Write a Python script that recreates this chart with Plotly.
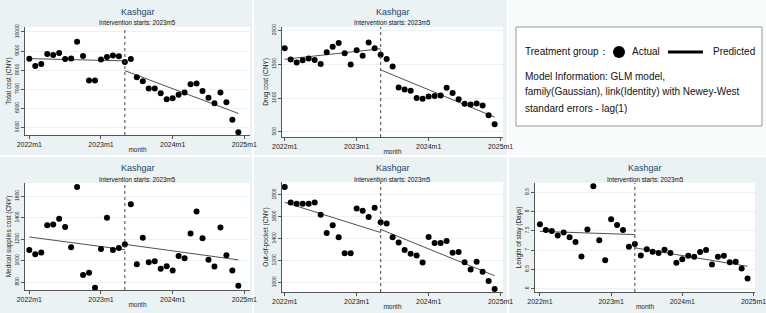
import numpy as np
import plotly.graph_objects as go

W, H = 766, 313
months = list(range(36))  # 2022m1 .. 2024m12
tick_vals = [0, 12, 24, 36]
tick_text = ["2022m1", "2023m1", "2024m1", "2025m1"]
interv = 16  # 2023m5

total_cost = [8600, 8220, 8325, 8848, 8796, 8900, 8586, 8604, 9494, 8743, 7452, 7452,
              8551, 8691, 8761, 8726, 8429, 8586, 7627, 7417, 7033, 7033, 6789, 6475,
              6527, 6702, 6824, 7260, 7295, 6911, 6545, 6265, 6824, 6318, 5393, 4747]
drug_cost = [1738, 1569, 1525, 1559, 1584, 1564, 1505, 1678, 1757, 1812, 1663, 1495,
             1708, 1624, 1822, 1738, 1639, 1579, 1465, 1158, 1129, 1109, 1000, 990,
             1025, 1030, 1040, 1153, 1074, 985, 916, 906, 921, 891, 748, 614]
med_supplies = [1100, 1059, 1075, 1331, 1337, 1390, 1313, 1124, 1686, 865, 887, 748,
                1109, 1399, 1100, 1118, 1152, 1526, 967, 1214, 985, 995, 924, 948,
                908, 1044, 1022, 1254, 1458, 1208, 1007, 945, 1310, 1050, 908, 766]
out_of_pocket = [1870, 1730, 1718, 1718, 1718, 1730, 1617, 1452, 1522, 1412, 1266, 1266,
                 1675, 1653, 1598, 1681, 1550, 1537, 1412, 1366, 1296, 1263, 1247, 1183,
                 1415, 1360, 1360, 1379, 1272, 1278, 1186, 1119, 1189, 1098, 1015, 942]
length_of_stay = [7.667, 7.518, 7.491, 7.377, 7.456, 7.333, 7.211, 6.833, 7.535, 8.658, 7.254, 6.737,
                  7.798, 7.649, 7.518, 7.088, 7.158, 6.860, 7.018, 6.956, 6.921, 7.009, 6.921, 6.667,
                  6.763, 6.851, 6.825, 6.947, 7.000, 6.623, 6.825, 6.851, 6.684, 6.693, 6.518, 6.263]

y_titles = ["Total cost (CNY)", "Drug cost (CNY)", "Medical supplies cost (CNY)",
            "Out-of-pocket (CNY)", "Length of stay (Days)"]
y_ticks = [[5000, 6000, 7000, 8000, 9000, 10000],
           [500, 1000, 1500, 2000],
           [800, 1000, 1200, 1400, 1600],
           [1000, 1200, 1400, 1600, 1800],
           [6, 6.5, 7, 7.5, 8, 8.5]]
y_tick_text = [["5000", "6000", "7000", "8000", "9000", "10000"],
               ["500", "1000", "1500", "2000"],
               ["800", "1000", "1200", "1400", "1600"],
               ["1000", "1200", "1400", "1600", "1800"],
               ["6", "6.5", "7", "7.5", "8", "8.5"]]
series = [total_cost, drug_cost, med_supplies, out_of_pocket, length_of_stay]

# layout geometry (pixels)
plot_boxes = [(25, 250, 27, 135), (282, 503, 27, 137), (25, 250, 183, 290),
              (282, 503, 182, 292), (535, 755, 183, 292)]
y_ranges = [[4597, 10262], [426, 2050], [726, 1724], [914, 1916], [5.91, 8.74]]
x_ranges = [[-0.72, 36.95], [-0.45, 36.4], [-0.72, 36.95], [-0.45, 36.4], [-0.83, 36.25]]
title_y = [(12, 23), (12, 23), (168, 179), (168, 179), (168, 179)]

BG = "#EAF2F3"
NAVY = "#1A476F"
FONT = "Liberation Sans, Arial, sans-serif"
TXT = "#222"

def px(x):
    return x / W

def py(y):
    return 1 - y / H

fig = go.Figure()
shapes = []
annotations = []

# panel backgrounds
panels = [(0, 252, 0, 155), (254, 507, 0, 155), (0, 252, 157, 313),
          (254, 507, 157, 313), (509, 766, 157, 313)]
for (x0, x1, y0, y1) in panels:
    shapes.append(dict(type="rect", xref="paper", yref="paper", x0=px(x0), x1=px(x1),
                       y0=py(y1), y1=py(y0), fillcolor=BG, line=dict(width=0), layer="below"))
shapes.append(dict(type="rect", xref="paper", yref="paper", x0=px(509), x1=px(766),
                   y0=py(155), y1=py(0), fillcolor="#F8FBFB", line=dict(width=0), layer="below"))
for (x0, x1, y0, y1) in plot_boxes:
    shapes.append(dict(type="rect", xref="paper", yref="paper", x0=px(x0), x1=px(x1),
                       y0=py(y1), y1=py(y0), fillcolor="white", line=dict(width=0), layer="below"))

t = np.array(months, dtype=float)
for i, ys in enumerate(series):
    k = i + 1
    xa = "x" if k == 1 else f"x{k}"
    ya = "y" if k == 1 else f"y{k}"
    yv = np.array(ys, dtype=float)
    pre = t < interv
    post = ~pre
    b_pre = np.polyfit(t[pre], yv[pre], 1)
    b_post = np.polyfit(t[post], yv[post], 1)
    tx_pre = np.array([0, interv], dtype=float)
    tx_post = np.array([interv, 35], dtype=float)
    fig.add_trace(go.Scatter(x=tx_pre, y=np.polyval(b_pre, tx_pre), mode="lines",
                             line=dict(color="#505050", width=1), xaxis=xa, yaxis=ya,
                             showlegend=False, hoverinfo="skip"))
    fig.add_trace(go.Scatter(x=tx_post, y=np.polyval(b_post, tx_post), mode="lines",
                             line=dict(color="#505050", width=1), xaxis=xa, yaxis=ya,
                             showlegend=False, hoverinfo="skip"))
    fig.add_trace(go.Scatter(x=months, y=ys, mode="markers",
                             marker=dict(color="black", size=6), xaxis=xa, yaxis=ya,
                             showlegend=False))
    x0, x1, y0, y1 = plot_boxes[i]
    xkey = "xaxis" if k == 1 else f"xaxis{k}"
    ykey = "yaxis" if k == 1 else f"yaxis{k}"
    fig.update_layout(**{
        xkey: dict(domain=[px(x0), px(x1)], anchor=ya, range=x_ranges[i], automargin=False,
                   tickvals=tick_vals, ticktext=tick_text, ticks="outside", ticklen=3,
                   tickcolor="#555", showline=True, linecolor="#555", linewidth=1,
                   showgrid=False, zeroline=False, ticklabeloverflow="allow",
                   tickfont=dict(size=7, color=TXT, family=FONT),
                   title=dict(text="month", font=dict(size=6.5, color=TXT, family=FONT),
                              standoff=0)),
        ykey: dict(domain=[py(y1), py(y0)], anchor=xa, range=y_ranges[i], automargin=False,
                   tickvals=y_ticks[i], ticktext=y_tick_text[i], ticks="outside", ticklen=3,
                   tickcolor="#555",
                   showline=True, linecolor="#555", linewidth=1, tickangle=-90,
                   showgrid=True, gridcolor=BG, gridwidth=1, zeroline=False,
                   tickfont=dict(size=5, color=TXT, family=FONT),
                   title=dict(text=y_titles[i], font=dict(size=6.5, color=TXT, family=FONT),
                              standoff=1)),
    })
    # intervention line
    shapes.append(dict(type="line", xref=xa, yref=f"{ya} domain", x0=interv, x1=interv,
                       y0=0, y1=1, line=dict(color="#444", width=1, dash="dot")))
    cx = px((x0 + x1) / 2)
    annotations.append(dict(text="Kashgar", x=cx, y=py(title_y[i][0]), xref="paper", yref="paper",
                            showarrow=False, font=dict(size=9, color=NAVY, family=FONT),
                            xanchor="center", yanchor="middle"))
    annotations.append(dict(text="Intervention starts: 2023m5", x=cx, y=py(title_y[i][1]),
                            xref="paper", yref="paper", showarrow=False,
                            font=dict(size=6.3, color="#111", family=FONT),
                            xanchor="center", yanchor="middle"))

# legend box
shapes.append(dict(type="rect", xref="paper", yref="paper", x0=px(516), x1=px(762),
                   y0=py(126), y1=py(27), fillcolor="white", line=dict(color="#999", width=1)))
shapes.append(dict(type="circle", xref="paper", yref="paper", x0=px(613), x1=px(625),
                   y0=py(58), y1=py(46), fillcolor="black", line=dict(color="black", width=0)))
shapes.append(dict(type="line", xref="paper", yref="paper", x0=px(668), x1=px(703),
                   y0=py(52), y1=py(52), line=dict(color="black", width=3)))
leg_font = dict(size=10, color="#111", family=FONT)
for txt, x, y in [("Treatment group：", 523, 52), ("Actual", 630, 52), ("Predicted", 711, 52),
                  ("Model Information: GLM model,", 523, 76),
                  ("family(Gaussian), link(Identity) with Newey-West", 523, 91),
                  ("standard errors - lag(1)", 523, 108)]:
    annotations.append(dict(text=txt, x=px(x), y=py(y), xref="paper", yref="paper",
                            showarrow=False, font=leg_font, xanchor="left", yanchor="middle"))

fig.update_layout(width=W, height=H, margin=dict(l=0, r=0, t=0, b=0),
                  paper_bgcolor="white", plot_bgcolor="white",
                  shapes=shapes, annotations=annotations, showlegend=False,
                  font=dict(family=FONT))
fig.write_html("out.html")
